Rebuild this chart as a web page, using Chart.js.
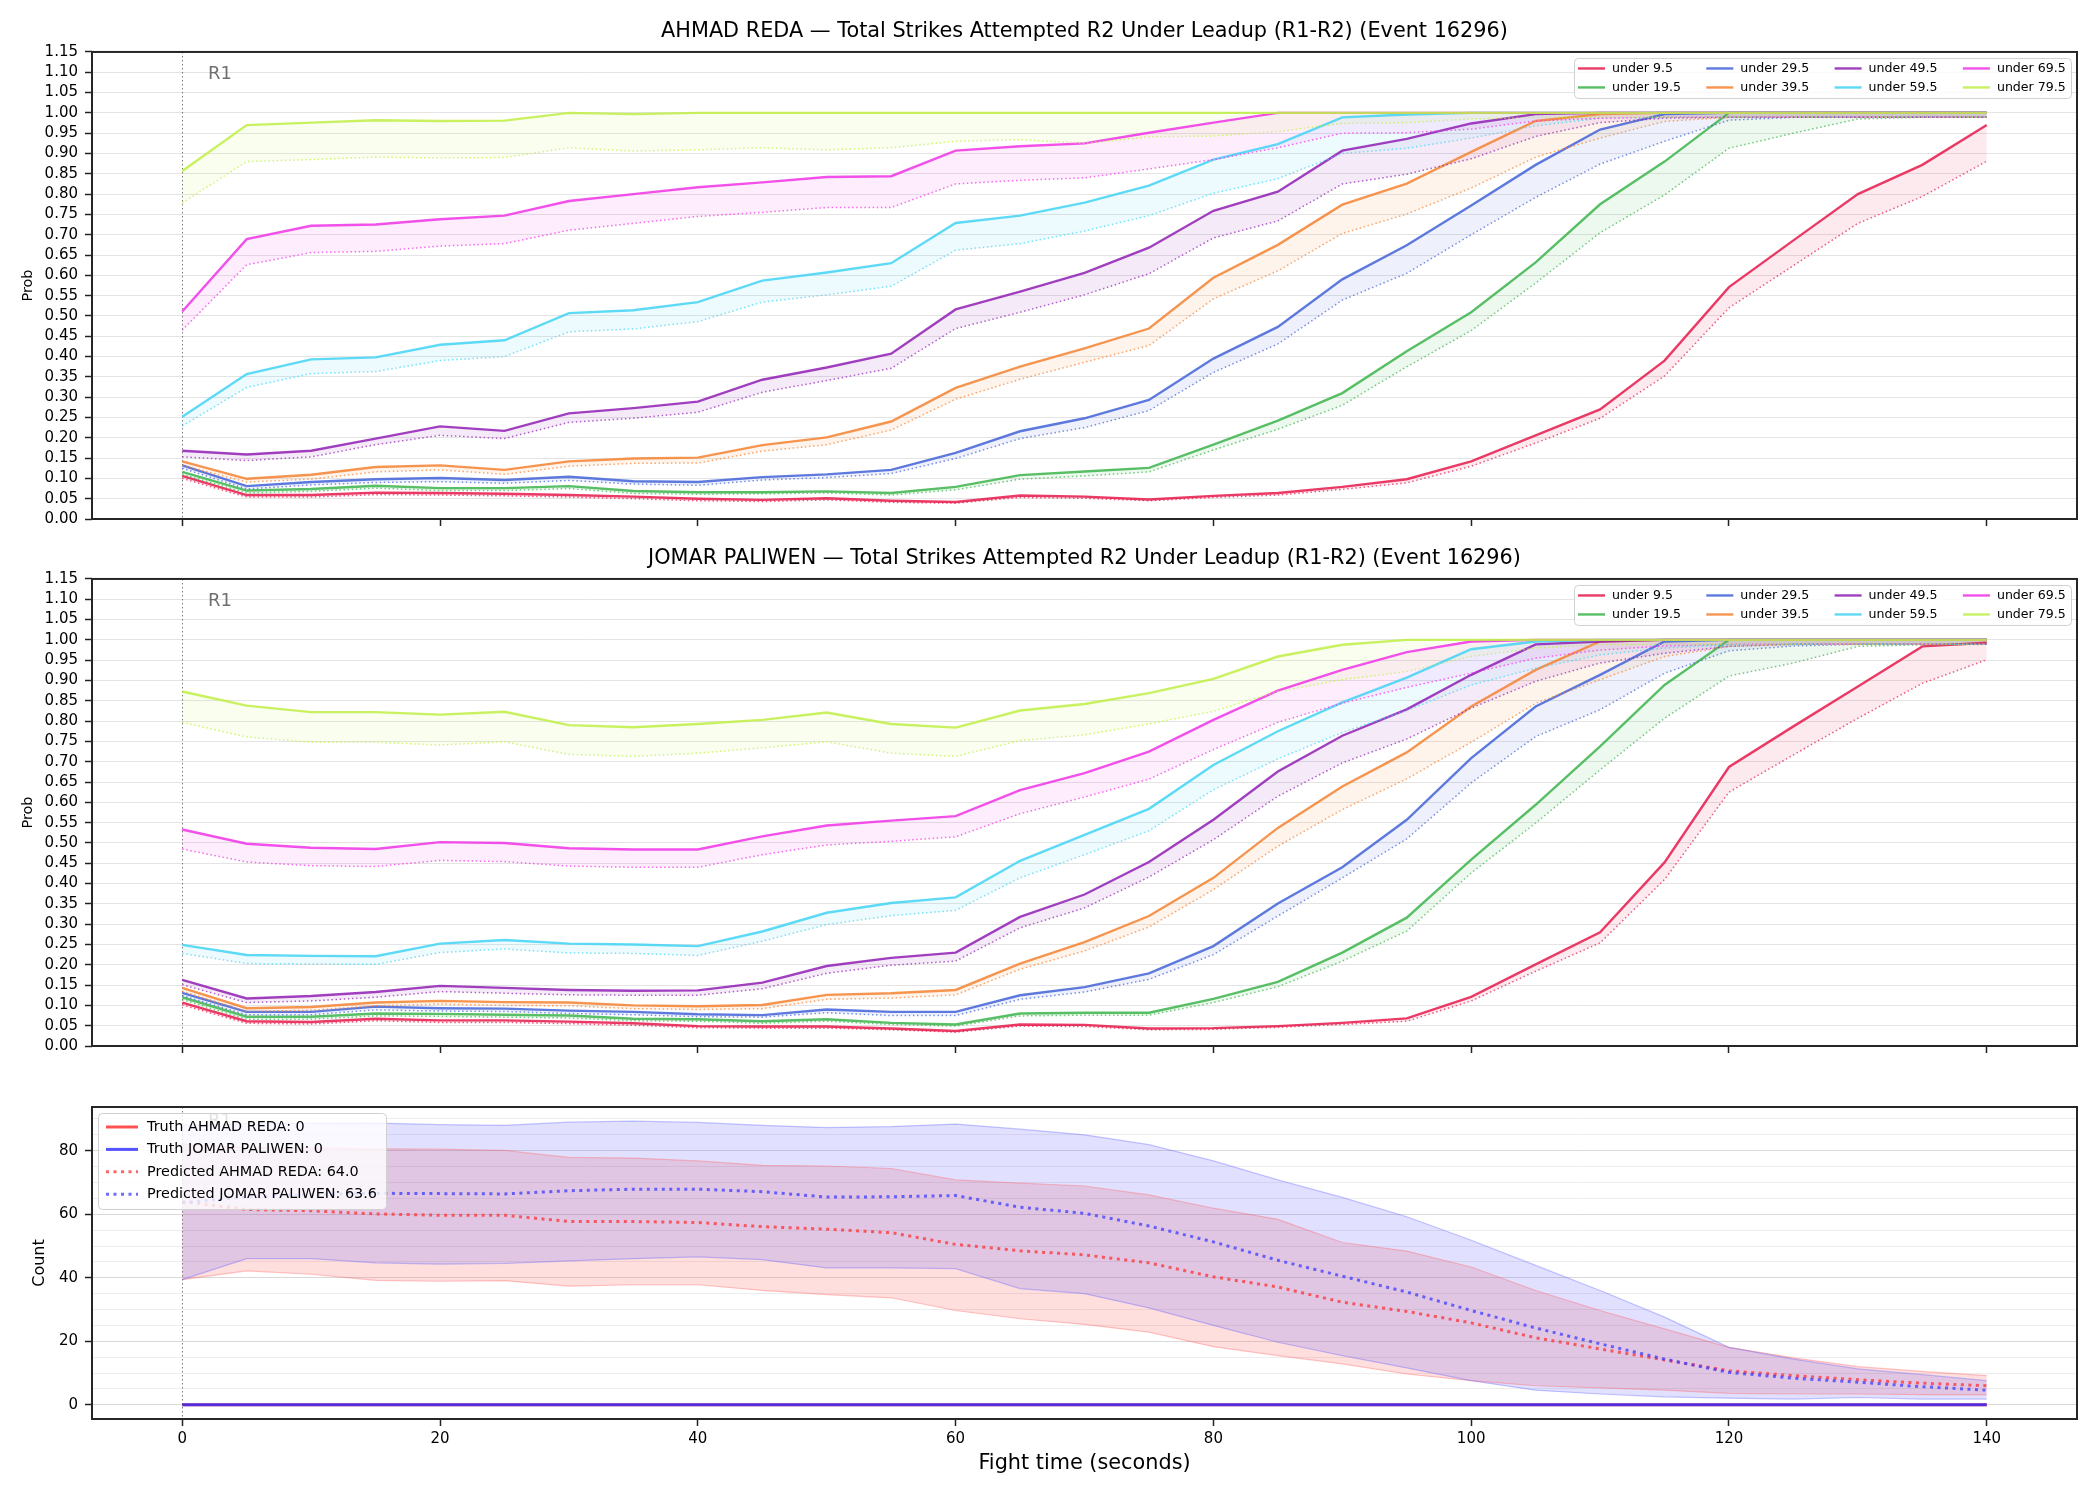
<!DOCTYPE html>
<html><head><meta charset="utf-8">
<script src="https://cdn.jsdelivr.net/npm/chart.js@4.4.1/dist/chart.umd.min.js"></script>
<style>
html,body{margin:0;padding:0;background:#fff;}
#wrap{position:relative;width:2100px;height:1500px;overflow:hidden;background:#fff;}
canvas{position:absolute;left:0;}
</style>
</head><body><div id="wrap">
<canvas id="c1" width="2100" height="545" style="top:0px"></canvas>
<canvas id="c2" width="2100" height="545" style="top:527px"></canvas>
<canvas id="c3" width="2100" height="420" style="top:1080px"></canvas>
</div>
<script>
// ---------------- DATA ----------------
const times = [0,5,10,15,20,25,30,35,40,45,50,55,60,65,70,75,80,85,90,95,100,105,110,115,120,125,130,135,140];
const xTickVals = [0,20,40,60,80,100,120,140];
const probTickVals = [0,0.05,0.10,0.15,0.20,0.25,0.30,0.35,0.40,0.45,0.50,0.55,0.60,0.65,0.70,0.75,0.80,0.85,0.90,0.95,1.00,1.05,1.10,1.15];
const countTickVals = [0,5,10,15,20,25,30,35,40,45,50,55,60,65,70,75,80,85,90];
const thresholdLabels = ['under 9.5','under 19.5','under 29.5','under 39.5','under 49.5','under 59.5','under 69.5','under 79.5'];

// AHMAD REDA (solid line = main, dotted = lower)
const reda9  = [.106,.059,.059,.065,.064,.062,.059,.055,.050,.047,.051,.045,.042,.058,.055,.048,.057,.064,.079,.098,.142,.206,.270,.390,.571,.686,.800,.872,.970];
const reda9d = [.100,.054,.054,.060,.059,.057,.054,.050,.045,.043,.047,.041,.039,.053,.051,.045,.053,.059,.073,.089,.130,.187,.248,.352,.520,.624,.728,.794,.881];
const reda19  = [.116,.070,.074,.082,.076,.076,.081,.069,.066,.066,.068,.064,.079,.108,.117,.126,.183,.242,.310,.413,.509,.632,.775,.880,1,1,1,1,1];
const reda19d = [.110,.064,.068,.076,.070,.070,.075,.063,.061,.062,.064,.059,.072,.098,.106,.116,.170,.221,.280,.375,.464,.581,.705,.798,.913,.950,.985,.989,.989];
const reda29  = [.132,.081,.091,.098,.101,.096,.104,.093,.091,.103,.110,.121,.163,.216,.248,.293,.395,.473,.590,.674,.772,.872,.959,.997,1,1,1,1,1];
const reda29d = [.125,.074,.084,.090,.092,.088,.095,.086,.083,.096,.102,.112,.149,.198,.225,.267,.361,.431,.539,.605,.700,.792,.874,.930,.982,.989,.989,.989,.989];
const reda39  = [.142,.099,.109,.128,.132,.121,.142,.149,.151,.182,.201,.240,.323,.375,.420,.469,.594,.675,.774,.826,.904,.980,.997,1,1,1,1,1,1];
const reda39d = [.132,.091,.098,.116,.121,.110,.130,.137,.138,.167,.183,.219,.295,.344,.386,.427,.542,.611,.703,.751,.815,.891,.938,.979,.989,.989,.989,.989,.989];
const reda49  = [.168,.159,.168,.198,.228,.217,.260,.273,.289,.343,.373,.407,.516,.560,.606,.668,.759,.806,.907,.936,.974,.997,1,1,1,1,1,1,1];
const reda49d = [.153,.144,.153,.183,.206,.198,.238,.248,.263,.312,.341,.371,.469,.509,.552,.604,.692,.734,.825,.849,.887,.942,.976,.987,.989,.989,.989,.989,.989];
const reda59  = [.252,.357,.393,.398,.429,.440,.507,.514,.534,.587,.607,.630,.729,.747,.779,.821,.885,.923,.989,.996,1,1,1,1,1,1,1,1,1];
const reda59d = [.229,.324,.358,.363,.390,.400,.461,.468,.486,.534,.552,.573,.662,.678,.709,.747,.802,.838,.900,.913,.938,.968,.987,.989,.989,.989,.989,.989,.989];
const reda69  = [.511,.689,.722,.725,.738,.747,.783,.800,.817,.829,.842,.844,.907,.918,.925,.951,.976,1,1,1,1,1,1,1,1,1,1,1,1];
const reda69d = [.465,.626,.656,.659,.672,.678,.711,.728,.745,.755,.767,.767,.825,.834,.840,.862,.885,.914,.950,.951,.960,.980,.987,.989,.989,.989,.989,.989,.989];
const reda79  = [.857,.970,.976,.982,.980,.981,1,.997,1,1,1,1,1,1,1,1,1,1,1,1,1,1,1,1,1,1,1,1,1];
const reda79d = [.778,.880,.885,.891,.889,.890,.914,.906,.909,.914,.909,.914,.930,.934,.925,.941,.943,.954,.974,.976,.985,.989,.989,.989,.989,.989,.989,.989,.989];

// JOMAR PALIWEN
const pal9  = [.107,.061,.059,.067,.063,.063,.060,.056,.049,.048,.048,.043,.037,.053,.052,.043,.044,.049,.057,.068,.121,.201,.280,.452,.687,.787,.885,.984,.993];
const pal9d = [.101,.056,.054,.062,.058,.058,.055,.051,.045,.044,.044,.040,.034,.049,.048,.040,.041,.046,.053,.061,.111,.184,.254,.410,.625,.717,.807,.893,.951];
const pal19  = [.120,.072,.072,.080,.079,.077,.075,.067,.066,.061,.066,.057,.053,.080,.082,.082,.116,.158,.230,.316,.459,.594,.738,.889,1,1,1,1,1];
const pal19d = [.114,.066,.066,.074,.073,.071,.069,.062,.061,.056,.061,.053,.049,.074,.076,.076,.107,.146,.209,.283,.426,.549,.680,.807,.911,.943,.984,.988,.989];
const pal29  = [.131,.084,.084,.097,.093,.092,.087,.084,.078,.076,.090,.084,.084,.125,.145,.179,.246,.351,.440,.557,.709,.836,.914,.996,1,1,1,1,1];
const pal29d = [.124,.077,.077,.089,.086,.085,.080,.077,.072,.071,.082,.075,.075,.115,.133,.164,.225,.320,.414,.510,.648,.762,.828,.918,.973,.985,.989,.989,.989];
const pal39  = [.143,.093,.096,.107,.111,.108,.107,.100,.098,.101,.126,.130,.138,.203,.256,.320,.414,.537,.639,.723,.836,.926,.996,1,1,1,1,1,1];
const pal39d = [.135,.085,.088,.099,.103,.100,.099,.092,.090,.092,.115,.118,.126,.189,.234,.293,.385,.492,.582,.658,.748,.844,.902,.959,.984,.989,.989,.989,.989];
const pal49  = [.163,.117,.123,.133,.148,.143,.138,.136,.137,.156,.197,.217,.230,.318,.373,.453,.557,.676,.764,.829,.914,.989,.996,1,1,1,1,1,1];
const pal49d = [.151,.107,.111,.120,.134,.130,.126,.125,.125,.141,.179,.199,.209,.291,.340,.416,.508,.615,.697,.756,.832,.898,.943,.967,.984,.989,.989,.989,.989];
const pal59  = [.249,.224,.222,.221,.252,.261,.252,.250,.246,.282,.328,.352,.366,.456,.520,.584,.692,.775,.846,.907,.977,.996,1,1,1,1,1,1,1];
const pal59d = [.228,.203,.202,.201,.230,.239,.229,.228,.223,.258,.299,.321,.334,.414,.471,.530,.631,.707,.772,.826,.889,.930,.963,.980,.988,.989,.989,.989,.989];
const pal69  = [.533,.498,.488,.485,.502,.500,.487,.484,.484,.516,.543,.555,.566,.630,.672,.725,.803,.875,.926,.970,.996,1,1,1,1,1,1,1,1];
const pal69d = [.485,.453,.444,.442,.457,.454,.443,.440,.440,.471,.495,.504,.515,.572,.613,.657,.730,.797,.844,.883,.918,.955,.975,.985,.989,.989,.989,.989,.989];
const pal79  = [.873,.838,.822,.822,.816,.823,.790,.785,.793,.803,.821,.793,.784,.826,.842,.869,.904,.959,.988,1,1,1,1,1,1,1,1,1,1];
const pal79d = [.797,.761,.748,.748,.741,.749,.718,.713,.721,.734,.749,.721,.713,.752,.766,.793,.824,.873,.902,.922,.959,.980,.988,.989,.989,.989,.989,.989,.989];

// Count panel
const redaPred = [64.0,61.5,61.1,60.1,59.7,59.7,57.7,57.7,57.4,56.1,55.3,54.2,50.5,48.5,47.2,44.7,40.3,37.1,32.3,29.4,25.8,21.1,17.6,14.1,10.7,9.2,7.9,6.8,6.0];
const redaHi   = [82.0,81.0,80.8,80.6,80.5,80.1,77.9,77.7,76.8,75.4,75.2,74.4,70.8,69.8,68.9,66.1,61.9,58.4,51.1,48.4,43.4,36.0,29.7,23.9,18.1,14.8,12.0,10.5,9.2];
const redaLo   = [39.4,42.2,41.1,39.2,38.9,39.1,37.4,37.8,37.8,36.0,34.7,33.7,29.7,27.1,25.3,22.9,18.3,15.5,12.9,9.7,7.6,6.0,5.3,4.6,3.6,3.4,3.4,3.2,3.1];
const palPred  = [63.6,65.5,66.2,66.6,66.5,66.4,67.4,67.9,67.9,67.1,65.4,65.5,65.9,62.2,60.3,56.3,51.3,45.5,40.5,35.5,29.7,24.2,19.2,14.4,10.2,8.4,7.1,5.7,4.6];
const palHi    = [88.0,88.5,88.6,88.7,88.2,88.0,89.0,89.3,88.9,88.0,87.3,87.6,88.4,86.8,85.0,81.9,76.8,70.8,65.3,59.2,51.8,43.9,36.0,27.6,18.1,14.4,11.3,9.5,7.6];
const palLo    = [39.4,46.0,46.0,44.7,44.3,44.5,45.3,46.0,46.6,45.7,43.1,43.1,42.9,36.6,35.0,30.5,25.0,19.7,15.5,11.6,7.6,4.6,3.4,2.5,2.1,1.8,2.3,1.8,1.8];
const redaTruth = [0,0,0,0,0,0,0,0,0,0,0,0,0,0,0,0,0,0,0,0,0,0,0,0,0,0,0,0,0];
const palTruth  = [0,0,0,0,0,0,0,0,0,0,0,0,0,0,0,0,0,0,0,0,0,0,0,0,0,0,0,0,0];
const countLegend = ['Truth AHMAD REDA: 0','Truth JOMAR PALIWEN: 0','Predicted AHMAD REDA: 64.0','Predicted JOMAR PALIWEN: 63.6'];

// ---------------- STYLE ----------------
const FONT = "'DejaVu Sans', sans-serif";
const RGB = ['230,25,75','60,180,75','67,99,216','245,130,49','145,30,180','66,212,244','240,50,230','191,239,69'];
function pts(arr){ return times.map((t,i)=>({x:t,y:arr[i]})); }

function probDatasets(mains, dots){
  const ds = [];
  mains.forEach((m,i)=>{
    ds.push({label:thresholdLabels[i], data:pts(m), borderColor:`rgba(${RGB[i]},0.85)`, borderWidth:2.4,
      fill:'+1', backgroundColor:`rgba(${RGB[i]},0.09)`, pointRadius:0, tension:0, order:100-i*2});
    ds.push({label:thresholdLabels[i]+' low', data:pts(dots[i]), borderColor:`rgba(${RGB[i]},0.7)`, borderWidth:1.5,
      borderDash:[1.5,2.6], fill:false, pointRadius:0, tension:0, order:99-i*2});
  });
  return ds;
}

const framePlugin = {id:'frame', afterDatasetsDraw(chart){
  const {ctx, chartArea:a} = chart;
  ctx.save(); ctx.strokeStyle='#262626'; ctx.lineWidth=2;
  ctx.strokeRect(a.left, a.top, a.right-a.left, a.bottom-a.top); ctx.restore();
}};
const vlinePlugin = {id:'vline', beforeDatasetsDraw(chart){
  const {ctx, chartArea:a, scales} = chart;
  const x = Math.round(scales.x.getPixelForValue(0))+0.5;
  ctx.save(); ctx.strokeStyle='rgba(90,90,90,0.8)'; ctx.lineWidth=1; ctx.setLineDash([1.5,2.5]);
  ctx.beginPath(); ctx.moveTo(x,a.top); ctx.lineTo(x,a.bottom); ctx.stroke(); ctx.restore();
}};
const r1Plugin = {id:'r1', afterDatasetsDraw(chart){
  const {ctx, scales} = chart;
  const x = scales.x.getPixelForValue(2);
  const y = scales.y.getPixelForValue(scales.y.max*0.953);
  ctx.save(); ctx.fillStyle='rgba(95,95,95,0.9)'; ctx.font=`18px ${FONT}`;
  ctx.textAlign='left'; ctx.textBaseline='middle'; ctx.fillText('R1', x, y); ctx.restore();
}};
const topLegendPlugin = {id:'toplegend', afterDraw(chart){
  const {ctx, chartArea:a} = chart;
  const bx = a.right-503, by = a.top+6, bw = 497, bh = 40;
  ctx.save();
  ctx.beginPath(); ctx.roundRect(bx+0.5, by+0.5, bw, bh, 4);
  ctx.fillStyle='rgba(255,255,255,0.8)'; ctx.fill();
  ctx.strokeStyle='#d0d0d0'; ctx.lineWidth=1; ctx.stroke();
  ctx.font=`12.6px ${FONT}`; ctx.textBaseline='middle'; ctx.textAlign='left';
  for (let i=0;i<8;i++){
    const c = Math.floor(i/2), r = i%2;
    const x0 = bx+4+c*128.3, y = by+10.5+r*19;
    ctx.strokeStyle=`rgba(${RGB[i]},0.85)`; ctx.lineWidth=2.4;
    ctx.beginPath(); ctx.moveTo(x0,y); ctx.lineTo(x0+27,y); ctx.stroke();
    ctx.fillStyle='#000'; ctx.fillText(thresholdLabels[i], x0+34, y);
  }
  ctx.restore();
}};

function probChart(id, title, mains, dots){
  return new Chart(document.getElementById(id), {
    type:'line',
    data:{datasets:probDatasets(mains,dots)},
    options:{
      responsive:false, animation:false, devicePixelRatio:1,
      layout:{padding:{left:0,right:23,top:0,bottom:0}},
      plugins:{
        legend:{display:false}, tooltip:{enabled:false},
        filler:{drawTime:'beforeDatasetsDraw'},
        title:{display:true, text:title, fullSize:false, color:'#000',
          font:{family:FONT, size:20.8, weight:'normal', lineHeight:1.2}, padding:{top:19.5,bottom:7.5}}
      },
      scales:{
        x:{type:'linear', min:-7, max:147,
          afterBuildTicks:s=>{s.ticks = xTickVals.map(v=>({value:v}));},
          afterFit:s=>{s.height=26;},
          ticks:{display:false},
          grid:{drawOnChartArea:false, drawTicks:true, tickLength:7, tickColor:'#222', tickWidth:1.5, color:'#222'},
          border:{display:false}},
        y:{type:'linear', min:0, max:1.15,
          afterBuildTicks:s=>{s.ticks = probTickVals.map(v=>({value:v}));},
          afterFit:s=>{s.width=92;},
          ticks:{autoSkip:false, color:'#000', font:{family:FONT,size:15}, padding:7, callback:v=>Number(v).toFixed(2)},
          grid:{color:'#e4e4e4', lineWidth:1, tickLength:7, tickColor:'#222', tickWidth:1.5},
          border:{display:false},
          title:{display:true, text:'Prob', color:'#000', font:{family:FONT,size:14.4}, padding:{top:19.5,bottom:0}}}
      }
    },
    plugins:[vlinePlugin, framePlugin, r1Plugin, topLegendPlugin]
  });
}

probChart('c1','AHMAD REDA \u2014 Total Strikes Attempted R2 Under Leadup (R1-R2) (Event 16296)',
  [reda9,reda19,reda29,reda39,reda49,reda59,reda69,reda79],
  [reda9d,reda19d,reda29d,reda39d,reda49d,reda59d,reda69d,reda79d]);
probChart('c2','JOMAR PALIWEN \u2014 Total Strikes Attempted R2 Under Leadup (R1-R2) (Event 16296)',
  [pal9,pal19,pal29,pal39,pal49,pal59,pal69,pal79],
  [pal9d,pal19d,pal29d,pal39d,pal49d,pal59d,pal69d,pal79d]);

// ---------------- COUNT PANEL ----------------
const LSTY = [
  {color:'rgba(255,40,40,0.8)', dash:[], w:3},
  {color:'rgba(40,40,255,0.8)', dash:[], w:3},
  {color:'rgba(255,50,50,0.75)', dash:[3,4.5], w:3},
  {color:'rgba(60,60,255,0.75)', dash:[3,4.5], w:3}
];
const countLegendPlugin = {id:'countlegend', afterDraw(chart){
  const {ctx, chartArea:a} = chart;
  const bx = a.left+6, by = a.top+6, bw = 288, bh = 96;
  ctx.save();
  ctx.beginPath(); ctx.roundRect(bx+0.5, by+0.5, bw, bh, 4);
  ctx.fillStyle='rgba(255,255,255,0.8)'; ctx.fill();
  ctx.strokeStyle='#d0d0d0'; ctx.lineWidth=1; ctx.stroke();
  ctx.font=`14.4px ${FONT}`; ctx.textBaseline='middle'; ctx.textAlign='left';
  for (let i=0;i<4;i++){
    const y = by+14+i*22.4, s = LSTY[i];
    ctx.strokeStyle=s.color; ctx.lineWidth=s.w; ctx.setLineDash(s.dash);
    ctx.beginPath(); ctx.moveTo(bx+8,y); ctx.lineTo(bx+40,y); ctx.stroke();
    ctx.setLineDash([]);
    ctx.fillStyle='#000'; ctx.fillText(countLegend[i], bx+49, y);
  }
  ctx.restore();
}};

function lineDs(label, arr, s, order){
  return {label, data:pts(arr), borderColor:s.color, borderWidth:s.w, borderDash:s.dash, fill:false, pointRadius:0, tension:0, order};
}
new Chart(document.getElementById('c3'), {
  type:'line',
  data:{datasets:[
    {label:'reda hi', data:pts(redaHi), borderColor:'rgba(255,90,90,0.35)', borderWidth:1.2, fill:'+1', backgroundColor:'rgba(255,90,90,0.2)', pointRadius:0, tension:0, order:10},
    {label:'reda lo', data:pts(redaLo), borderColor:'rgba(255,90,90,0.35)', borderWidth:1.2, fill:false, pointRadius:0, tension:0, order:9},
    {label:'pal hi', data:pts(palHi), borderColor:'rgba(90,90,255,0.35)', borderWidth:1.2, fill:'+1', backgroundColor:'rgba(90,90,255,0.18)', pointRadius:0, tension:0, order:8},
    {label:'pal lo', data:pts(palLo), borderColor:'rgba(90,90,255,0.35)', borderWidth:1.2, fill:false, pointRadius:0, tension:0, order:7},
    lineDs(countLegend[0], redaTruth, LSTY[0], 6),
    lineDs(countLegend[1], palTruth, LSTY[1], 5),
    lineDs(countLegend[2], redaPred, LSTY[2], 4),
    lineDs(countLegend[3], palPred, LSTY[3], 3)
  ]},
  options:{
    responsive:false, animation:false, devicePixelRatio:1,
    layout:{padding:{left:0,right:23,top:27,bottom:0}},
    plugins:{legend:{display:false}, tooltip:{enabled:false}, filler:{drawTime:'beforeDatasetsDraw'}},
    scales:{
      x:{type:'linear', min:-7, max:147,
        afterBuildTicks:s=>{s.ticks = xTickVals.map(v=>({value:v}));},
        afterFit:s=>{s.height=81;},
        ticks:{autoSkip:false, maxRotation:0, color:'#000', font:{family:FONT,size:15}, padding:4.5, callback:v=>String(v)},
        grid:{drawOnChartArea:false, drawTicks:true, tickLength:7, tickColor:'#222', tickWidth:1.5, color:'#222'},
        border:{display:false},
        title:{display:true, text:'Fight time (seconds)', color:'#000', font:{family:FONT,size:20.8}, padding:{top:0,bottom:23.7}}},
      y:{type:'linear', min:-4.47, max:93.77,
        afterBuildTicks:s=>{s.ticks = countTickVals.map(v=>({value:v}));},
        afterFit:s=>{s.width=92;},
        ticks:{autoSkip:false, color:'#000', font:{family:FONT,size:15}, padding:7, callback:v=>(v%20===0?String(v):'')},
        grid:{color:c=>(c.tick && c.tick.value%20===0 ? '#d9d9d9' : '#ededed'), lineWidth:1, tickLength:7,
          tickColor:c=>(c.tick && c.tick.value%20===0 ? '#222' : 'rgba(0,0,0,0)'), tickWidth:1.5},
        border:{display:false},
        title:{display:true, text:'Count', color:'#000', font:{family:FONT,size:16}, padding:{top:30.4,bottom:0}}}
    }
  },
  plugins:[vlinePlugin, framePlugin, r1Plugin, countLegendPlugin]
});
</script></body></html>
